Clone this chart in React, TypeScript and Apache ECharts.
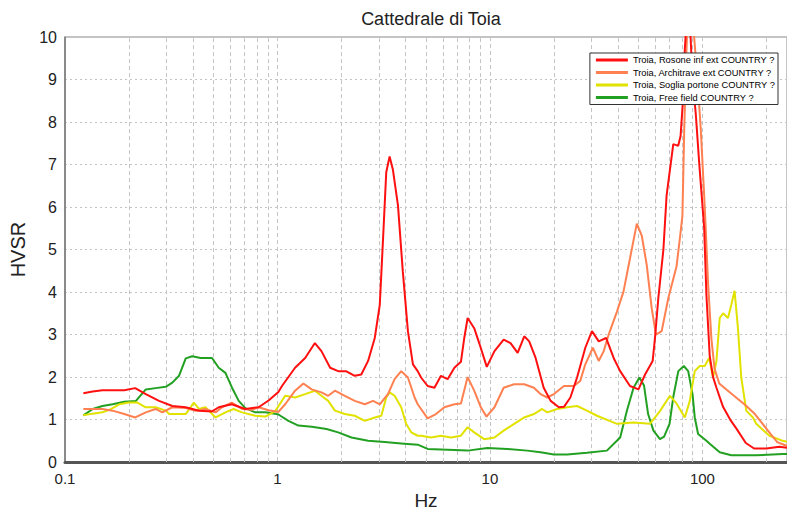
import React, { useEffect, useRef } from "react";
import * as echarts from "echarts";

// HVSR curves (frequency in Hz, H/V ratio)
const freqRosone = [0.122,0.135,0.15,0.19,0.214,0.24,0.277,0.32,0.37,0.427,0.491,0.529,0.609,0.706,0.815,0.908,1.01,1.05,1.21,1.35,1.5,1.61,1.77,1.93,2.1,2.31,2.48,2.67,2.87,3.03,3.14,3.25,3.37,3.49,3.69,3.89,4.11,4.34,4.57,4.74,5.09,5.48,5.88,6.32,6.8,7.3,7.57,7.85,8.43,8.9,9.66,10.5,11.6,12.5,13.5,14.5,15.3,16.4,17.9,19.3,21.1,22.3,23.9,25.7,28.1,30.2,32.5,35.2,38.2,41,45.6,50,53.7,58.3,59.8,62,65.5,67.8,72.9,76.9,78.9,81.2,82.6,84.2,85.7,87.2,89.8,93,96.5,99.2,101.9,104.4,108.2,112.2,116.4,125,135,144,160,175,200,230,250];
const hvsrRosone = [1.62,1.66,1.69,1.69,1.74,1.6,1.44,1.32,1.29,1.21,1.19,1.29,1.36,1.25,1.29,1.45,1.65,1.79,2.22,2.45,2.8,2.61,2.22,2.14,2.14,2.03,2.06,2.38,2.92,3.7,5.26,6.82,7.19,6.89,6.04,4.48,3.08,2.3,2.14,1.99,1.79,1.75,2.03,1.95,2.22,2.36,2.92,3.39,3.15,2.8,2.24,2.61,2.88,2.8,2.57,2.96,2.84,2.45,1.75,1.44,1.29,1.3,1.52,1.99,2.69,3.08,2.84,2.92,2.45,2.14,1.79,1.71,2.06,2.38,2.92,3.86,5.0,6.27,7.48,7.44,7.67,8.6,9.7,10.4,10.6,10.4,9.0,8.2,7.05,6.27,5.5,3.93,2.5,2.0,1.75,1.3,1.0,0.8,0.45,0.32,0.32,0.36,0.34];

const freqArchitrave = [0.122,0.15,0.1675,0.19,0.214,0.24,0.267,0.287,0.32,0.37,0.412,0.458,0.511,0.548,0.609,0.681,0.758,0.815,0.908,1.01,1.087,1.21,1.324,1.448,1.61,1.733,1.863,2.075,2.31,2.575,2.817,3.03,3.311,3.558,3.822,4.11,4.42,4.57,5.09,5.57,6.1,6.8,7.3,7.85,8.43,9.06,9.63,10.5,11.6,13,14.5,16.1,17.3,18.6,20,22.3,24.8,26.6,28.1,30.5,32.5,34.3,36.2,39.6,42.5,45.6,49.1,51.8,54.7,57.7,60.4,64.3,69.1,75.5,78.3,80.5,82.1,83.7,85.1,87.9,91.4,94.8,98.2,101.9,103.6,106.3,110.2,114,120,130,144,160,175,192,210,225,250];
const hvsrArchitrave = [1.25,1.25,1.21,1.13,1.05,1.17,1.25,1.17,1.29,1.27,1.21,1.25,1.17,1.29,1.4,1.25,1.23,1.29,1.22,1.18,1.36,1.68,1.85,1.71,1.64,1.56,1.68,1.56,1.44,1.36,1.44,1.36,1.6,1.95,2.14,1.99,1.52,1.36,1.03,1.13,1.29,1.36,1.38,2.0,1.68,1.29,1.07,1.29,1.75,1.83,1.83,1.75,1.6,1.52,1.6,1.79,1.79,1.91,2.3,2.69,2.38,2.61,3.0,3.54,4.01,4.79,5.61,5.33,4.63,3.62,3.0,3.08,3.86,4.6,5.26,5.8,7.83,9.4,10.4,10.6,10.0,9.0,7.83,6.27,5.5,4.2,2.9,2.2,1.85,1.7,1.52,1.33,1.15,0.9,0.65,0.47,0.38];

const freqSoglia = [0.122,0.135,0.15,0.165,0.18,0.2,0.219,0.24,0.267,0.298,0.309,0.37,0.39,0.404,0.427,0.458,0.484,0.511,0.569,0.622,0.681,0.786,0.876,0.976,1.087,1.21,1.35,1.5,1.61,1.733,1.863,2.075,2.31,2.575,2.87,3.08,3.25,3.37,3.558,3.822,4.03,4.26,4.57,4.74,5.28,5.88,6.55,7.3,7.85,8.43,9.39,10.5,11.6,13,14.5,16.1,17.6,18.6,20.7,23.1,25.7,28.6,31.9,39.6,47.4,56.6,63.1,70.3,75.5,82.6,87.2,92,97.1,102.5,107.5,112.2,116.4,120.6,125.1,131.9,136.7,141.6,146.9,152.3,160.8,172.8,179.1,206.6,238.8,250];
const hvsrSoglia = [1.1,1.14,1.17,1.25,1.36,1.4,1.4,1.29,1.29,1.21,1.13,1.13,1.29,1.4,1.25,1.29,1.17,1.05,1.17,1.25,1.17,1.09,1.07,1.2,1.56,1.52,1.6,1.68,1.56,1.44,1.21,1.13,1.09,0.97,1.05,1.09,1.52,1.64,1.56,1.29,0.9,0.7,0.62,0.62,0.58,0.62,0.58,0.62,0.82,0.7,0.54,0.58,0.74,0.9,1.05,1.13,1.25,1.17,1.25,1.29,1.32,1.21,1.09,0.9,0.93,0.9,1.2,1.56,1.38,1.05,1.44,2.14,2.26,2.26,2.45,1.99,2.38,3.39,3.5,3.39,3.7,4.03,3.15,1.99,1.21,1.05,0.9,0.62,0.5,0.48];

const freqFreeField = [0.122,0.135,0.15,0.1675,0.19,0.2157,0.24,0.267,0.298,0.32,0.344,0.37,0.397,0.4345,0.492,0.529,0.569,0.611,0.657,0.706,0.786,0.876,0.97,1.01,1.126,1.254,1.45,1.702,1.93,2.229,2.67,3.194,3.822,4.57,5.09,6.32,7.85,9.73,12.08,14.98,17.3,20,23.1,28.6,35.5,41,44.1,47.4,50.5,53.1,55.5,58.8,63.1,66,70,73,77,81.7,85.7,89.8,92,95.4,104.4,108.2,120.6,136.7,179.1,238.8,250];
const hvsrFreeField = [1.1,1.25,1.32,1.36,1.42,1.44,1.71,1.74,1.77,1.87,2.03,2.44,2.49,2.45,2.45,2.22,2.1,1.75,1.44,1.27,1.17,1.17,1.14,1.12,0.97,0.86,0.83,0.78,0.7,0.58,0.5,0.47,0.44,0.41,0.31,0.29,0.27,0.33,0.31,0.27,0.23,0.18,0.18,0.22,0.27,0.58,1.21,1.75,1.99,1.8,1.13,0.74,0.54,0.6,0.9,1.55,2.14,2.26,2.14,1.6,1.05,0.66,0.5,0.43,0.23,0.16,0.16,0.19,0.19];

const seriesNames = [
  "Troia, Rosone inf ext COUNTRY ?",
  "Troia, Architrave ext COUNTRY ?",
  "Troia, Soglia portone COUNTRY ?",
  "Troia, Free field COUNTRY ?",
];
const seriesColors = ["#ff1010", "#ff8050", "#e2e200", "#22a022"];

// minor vertical grid lines of the log frequency axis
const minorGridFreqs = [0.2,0.3,0.4,0.5,0.6,0.7,0.8,0.9,2,3,4,5,6,7,8,9,20,30,40,50,60,70,80,90,200];

const FONT = "Liberation Sans, Arial, sans-serif";

function pairs(f: number[], v: number[]) {
  return f.map((x, i) => [x, v[i]]);
}

export default function App() {
  const ref = useRef<HTMLDivElement>(null);

  useEffect(() => {
    if (!ref.current) return;
    const chart = echarts.init(ref.current, undefined, { renderer: "svg" });
    const curves = [
      pairs(freqRosone, hvsrRosone),
      pairs(freqArchitrave, hvsrArchitrave),
      pairs(freqSoglia, hvsrSoglia),
      pairs(freqFreeField, hvsrFreeField),
    ];
    const lineSeries = curves.map((data, i) => ({
      name: seriesNames[i],
      type: "line",
      data,
      showSymbol: false,
      symbol: "none",
      smooth: false,
      clip: true,
      z: 10 - i,
      lineStyle: { color: seriesColors[i], width: 2 },
      itemStyle: { color: seriesColors[i] },
      emphasis: { disabled: true },
    }));

    chart.setOption({
      animation: false,
      backgroundColor: "#ffffff",
      title: {
        text: "Cattedrale di Toia",
        left: 426,
        textAlign: "center",
        top: 5,
        textStyle: { fontFamily: FONT, fontSize: 18, fontWeight: "normal", color: "#222" },
      },
      grid: {
        left: 65,
        right: -3,
        top: 37,
        bottom: 50,
        show: true,
        borderColor: "#888",
        borderWidth: 1,
        backgroundColor: "#fff",
      },
      legend: {
        data: seriesNames,
        orient: "vertical",
        right: 9,
        top: 53,
        z: 50,
        icon: "rect",
        itemWidth: 32,
        itemHeight: 3,
        itemGap: 2.5,
        padding: [2, 3, 2, 6],
        backgroundColor: "#fff",
        borderColor: "#333",
        borderWidth: 1,
        borderRadius: 0,
        selectedMode: false,
        textStyle: { fontFamily: FONT, fontSize: 9.3, color: "#000", lineHeight: 10 },
      },
      xAxis: {
        type: "log",
        logBase: 10,
        min: 0.1,
        max: 250,
        name: "Hz",
        nameLocation: "middle",
        nameGap: 24,
        nameTextStyle: { fontFamily: FONT, fontSize: 19, color: "#222" },
        axisLine: { show: true, lineStyle: { color: "#555", width: 3 } },
        axisTick: { show: false },
        axisLabel: {
          fontFamily: FONT,
          fontSize: 15,
          color: "#222",
          margin: 9,
          showMaxLabel: false,
        },
        splitLine: { show: true, lineStyle: { color: "#c4c4c4", width: 1, type: [4, 3] } },
      },
      yAxis: {
        type: "value",
        min: 0,
        max: 10,
        interval: 1,
        name: "HVSR",
        nameLocation: "middle",
        nameGap: 35,
        nameTextStyle: { fontFamily: FONT, fontSize: 20, color: "#222" },
        axisLine: { show: true, lineStyle: { color: "#777", width: 1.5 } },
        axisTick: { show: false },
        axisLabel: { fontFamily: FONT, fontSize: 16, color: "#222", margin: 8 },
        splitLine: { show: true, lineStyle: { color: "#c4c4c4", width: 1, type: [2, 3] } },
      },
      series: [
        {
          name: "minor-grid",
          type: "line",
          data: [],
          z: 1,
          silent: true,
          markLine: {
            silent: true,
            symbol: "none",
            animation: false,
            label: { show: false },
            emphasis: { disabled: true },
            lineStyle: { color: "#c4c4c4", width: 1, type: [4, 3] },
            data: minorGridFreqs.map((f) => ({ xAxis: f })),
          },
        },
        ...lineSeries,
      ],
    });
    return () => chart.dispose();
  }, []);

  return (
    <div
      ref={ref}
      style={{ position: "fixed", left: 0, top: 0, width: 787, height: 515, background: "#fff" }}
    />
  );
}
